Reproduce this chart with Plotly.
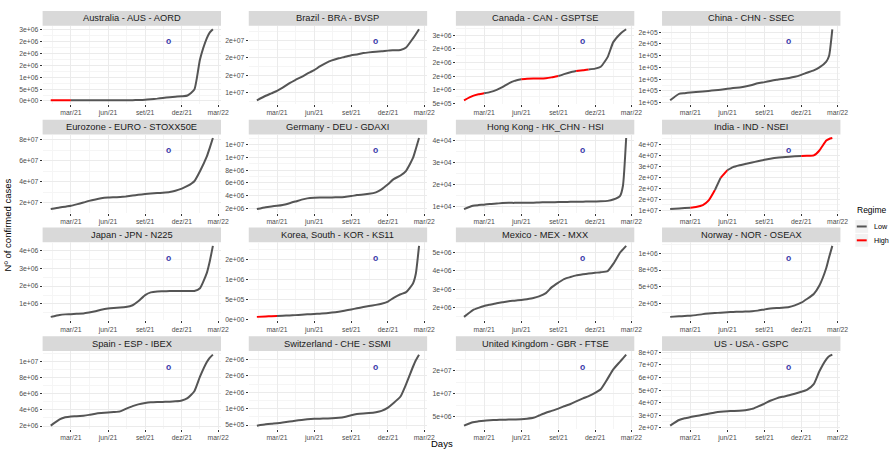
import pandas as pd
import plotly.graph_objects as go

# ---------------------------------------------------------------- data
dates = ["2021-01-10", "2021-02-01", "2021-02-15", "2021-03-01", "2021-03-15",
         "2021-04-01", "2021-04-15", "2021-05-01", "2021-05-15", "2021-06-01",
         "2021-06-15", "2021-07-01", "2021-07-15", "2021-08-01", "2021-08-15",
         "2021-09-01", "2021-09-15", "2021-10-01", "2021-10-15", "2021-11-01",
         "2021-11-15", "2021-12-01", "2021-12-15", "2022-01-01", "2022-01-15",
         "2022-02-01", "2022-02-08", "2022-02-16"]

# cumulative confirmed cases
australia = [0.029e6, 0.029e6, 0.029e6, 0.029e6, 0.029e6, 0.029e6, 0.030e6, 0.030e6, 0.030e6, 0.030e6,
             0.030e6, 0.031e6, 0.032e6, 0.035e6, 0.042e6, 0.055e6, 0.075e6, 0.100e6, 0.130e6, 0.160e6,
             0.180e6, 0.200e6, 0.230e6, 0.480e6, 1.750e6, 2.650e6, 2.880e6, 3.020e6]
brazil = [7.9e6, 9.2e6, 9.9e6, 10.6e6, 11.5e6, 12.8e6, 13.7e6, 14.6e6, 15.5e6, 16.5e6,
          17.6e6, 18.6e6, 19.3e6, 19.9e6, 20.3e6, 20.8e6, 21.0e6, 21.4e6, 21.6e6, 21.8e6,
          21.9e6, 22.1e6, 22.2e6, 22.3e6, 23.0e6, 25.6e6, 26.8e6, 28.2e6]
canada = [0.62e6, 0.78e6, 0.84e6, 0.88e6, 0.92e6, 1.00e6, 1.10e6, 1.24e6, 1.33e6, 1.39e6,
          1.41e6, 1.42e6, 1.42e6, 1.43e6, 1.46e6, 1.51e6, 1.58e6, 1.65e6, 1.69e6, 1.72e6,
          1.75e6, 1.78e6, 1.85e6, 2.20e6, 2.75e6, 3.05e6, 3.14e6, 3.22e6]
china = [1.020e5, 1.075e5, 1.081e5, 1.086e5, 1.090e5, 1.095e5, 1.100e5, 1.105e5, 1.110e5, 1.118e5,
         1.124e5, 1.130e5, 1.137e5, 1.150e5, 1.165e5, 1.175e5, 1.185e5, 1.195e5, 1.202e5, 1.210e5,
         1.220e5, 1.237e5, 1.255e5, 1.275e5, 1.300e5, 1.350e5, 1.400e5, 1.625e5]
eurozone = [14.0e6, 15.5e6, 16.3e6, 17.2e6, 18.5e6, 20.2e6, 21.8e6, 23.2e6, 24.2e6, 24.9e6,
            25.2e6, 25.5e6, 26.0e6, 26.9e6, 27.6e6, 28.3e6, 28.8e6, 29.2e6, 29.6e6, 30.3e6,
            31.5e6, 33.5e6, 36.0e6, 40.5e6, 50.0e6, 64.0e6, 72.0e6, 81.5e6]
germany = [1.93e6, 2.23e6, 2.35e6, 2.45e6, 2.58e6, 2.85e6, 3.10e6, 3.40e6, 3.60e6, 3.69e6,
           3.72e6, 3.73e6, 3.75e6, 3.78e6, 3.83e6, 3.96e6, 4.11e6, 4.21e6, 4.31e6, 4.54e6,
           5.00e6, 5.80e6, 6.60e6, 7.16e6, 7.90e6, 9.90e6, 11.30e6, 13.00e6]
hong_kong = [9.0e3, 10.5e3, 10.8e3, 11.0e3, 11.3e3, 11.5e3, 11.7e3, 11.8e3, 11.8e3, 11.85e3,
             11.9e3, 11.9e3, 12.0e3, 12.05e3, 12.1e3, 12.15e3, 12.2e3, 12.25e3, 12.3e3, 12.35e3,
             12.4e3, 12.45e3, 12.5e3, 12.7e3, 13.3e3, 15.0e3, 19.5e3, 41.0e3]
india = [10.47e6, 10.76e6, 10.92e6, 11.12e6, 11.44e6, 12.30e6, 14.29e6, 19.16e6, 24.68e6, 28.17e6,
         29.57e6, 30.41e6, 30.99e6, 31.66e6, 32.22e6, 32.86e6, 33.32e6, 33.77e6, 34.04e6, 34.29e6,
         34.46e6, 34.59e6, 34.70e6, 34.87e6, 37.12e6, 41.63e6, 42.34e6, 42.76e6]
japan = [0.28e6, 0.39e6, 0.42e6, 0.43e6, 0.45e6, 0.47e6, 0.52e6, 0.59e6, 0.68e6, 0.75e6,
         0.78e6, 0.80e6, 0.83e6, 0.93e6, 1.15e6, 1.50e6, 1.65e6, 1.70e6, 1.71e6, 1.72e6,
         1.72e6, 1.73e6, 1.73e6, 1.73e6, 1.88e6, 2.74e6, 3.36e6, 4.25e6]
korea = [0.068e6, 0.078e6, 0.084e6, 0.090e6, 0.096e6, 0.104e6, 0.112e6, 0.123e6, 0.131e6, 0.141e6,
         0.149e6, 0.158e6, 0.175e6, 0.199e6, 0.223e6, 0.255e6, 0.282e6, 0.314e6, 0.339e6, 0.369e6,
         0.399e6, 0.452e6, 0.545e6, 0.636e6, 0.690e6, 0.907e6, 1.150e6, 1.850e6]
mexico = [1.50e6, 1.87e6, 1.99e6, 2.09e6, 2.16e6, 2.24e6, 2.29e6, 2.35e6, 2.38e6, 2.42e6,
          2.46e6, 2.52e6, 2.61e6, 2.79e6, 3.10e6, 3.36e6, 3.55e6, 3.66e6, 3.75e6, 3.81e6,
          3.85e6, 3.89e6, 3.92e6, 3.98e6, 4.37e6, 4.99e6, 5.16e6, 5.35e6]
norway = [54e3, 63e3, 67e3, 72e3, 80e3, 95e3, 103e3, 110e3, 117e3, 123e3,
          127e3, 131e3, 133e3, 138e3, 147e3, 165e3, 178e3, 186e3, 190e3, 200e3,
          225e3, 265e3, 320e3, 395e3, 520e3, 780e3, 940e3, 1110e3]
spain = [2.05e6, 2.82e6, 3.08e6, 3.19e6, 3.21e6, 3.28e6, 3.38e6, 3.52e6, 3.60e6, 3.68e6,
         3.73e6, 3.81e6, 4.11e6, 4.45e6, 4.67e6, 4.83e6, 4.92e6, 4.96e6, 4.98e6, 5.00e6,
         5.05e6, 5.16e6, 5.44e6, 6.29e6, 8.09e6, 9.89e6, 10.40e6, 10.80e6]
switzerland = [0.48e6, 0.52e6, 0.54e6, 0.555e6, 0.575e6, 0.605e6, 0.63e6, 0.655e6, 0.675e6, 0.69e6,
               0.695e6, 0.70e6, 0.705e6, 0.72e6, 0.745e6, 0.80e6, 0.835e6, 0.855e6, 0.865e6, 0.89e6,
               0.93e6, 1.03e6, 1.17e6, 1.37e6, 1.75e6, 2.28e6, 2.48e6, 2.65e6]
united_kingdom = [3.10e6, 3.85e6, 4.04e6, 4.18e6, 4.26e6, 4.34e6, 4.38e6, 4.41e6, 4.45e6, 4.49e6,
                  4.60e6, 4.80e6, 5.30e6, 5.90e6, 6.30e6, 6.80e6, 7.30e6, 7.80e6, 8.35e6, 9.00e6,
                  9.50e6, 10.20e6, 11.00e6, 13.30e6, 15.30e6, 17.00e6, 17.70e6, 18.50e6]
us = [21.8e6, 26.3e6, 27.7e6, 28.6e6, 29.4e6, 30.4e6, 31.3e6, 32.3e6, 32.9e6, 33.3e6,
      33.5e6, 33.7e6, 34.1e6, 35.1e6, 36.9e6, 39.3e6, 41.6e6, 43.5e6, 44.7e6, 45.9e6,
      47.1e6, 48.7e6, 50.3e6, 54.8e6, 65.0e6, 74.5e6, 76.9e6, 78.2e6]

# periods classified as "High" regime (everything else is "Low")
high_australia = [("2021-01-10", "2021-03-01")]
high_canada = [("2021-01-10", "2021-03-01"), ("2021-06-01", "2021-09-01"),
               ("2021-10-15", "2021-11-15")]
high_india = [("2021-03-01", "2021-05-01"), ("2021-05-15", "2021-06-01"),
              ("2021-12-01", "2022-02-16")]
high_korea = [("2021-01-10", "2021-03-01")]

# y-axis breaks per panel
yt_australia = [0, 5e5, 1e6, 1.5e6, 2e6, 2.5e6, 3e6]
yt_brazil = [1e7, 1.5e7, 2e7, 2.5e7]
yt_canada = [5e5, 1e6, 1.5e6, 2e6, 2.5e6, 3e6]
yt_china = [1.0e5, 1.1e5, 1.2e5, 1.3e5, 1.4e5, 1.5e5, 1.6e5]
yt_eurozone = [2e7, 4e7, 6e7, 8e7]
yt_germany = [2e6, 4e6, 6e6, 8e6, 1e7, 1.2e7]
yt_hong_kong = [1e4, 2e4, 3e4, 4e4]
yt_india = [1e7, 1.5e7, 2e7, 2.5e7, 3e7, 3.5e7, 4e7]
yt_japan = [1e6, 2e6, 3e6, 4e6]
yt_korea = [0, 5e5, 1e6, 1.5e6]
yt_mexico = [2e6, 3e6, 4e6, 5e6]
yt_norway = [0, 2.5e5, 5e5, 7.5e5, 1e6]
yt_spain = [2e6, 4e6, 6e6, 8e6, 1e7]
yt_switzerland = [5e5, 1e6, 1.5e6, 2e6, 2.5e6]
yt_united_kingdom = [5e6, 1e7, 1.5e7]
yt_us = [2e7, 3e7, 4e7, 5e7, 6e7, 7e7, 8e7]

# x-axis breaks
x_ticks = ["2021-03-01", "2021-06-01", "2021-09-01", "2021-12-01", "2022-03-01"]
x_labels = ["mar/21", "jun/21", "set/21", "dez/21", "mar/22"]
x_minor = ["2021-01-14", "2021-04-16", "2021-07-17", "2021-10-16", "2022-01-15"]

marker_date = "2021-10-30"

panels = [
    ("Australia - AUS - AORD", australia, yt_australia, high_australia),
    ("Brazil - BRA - BVSP", brazil, yt_brazil, []),
    ("Canada - CAN - GSPTSE", canada, yt_canada, high_canada),
    ("China - CHN - SSEC", china, yt_china, []),
    ("Eurozone - EURO - STOXX50E", eurozone, yt_eurozone, []),
    ("Germany - DEU - GDAXI", germany, yt_germany, []),
    ("Hong Kong - HK_CHN - HSI", hong_kong, yt_hong_kong, []),
    ("India - IND - NSEI", india, yt_india, high_india),
    ("Japan - JPN - N225", japan, yt_japan, []),
    ("Korea, South - KOR - KS11", korea, yt_korea, high_korea),
    ("Mexico - MEX - MXX", mexico, yt_mexico, []),
    ("Norway - NOR - OSEAX", norway, yt_norway, []),
    ("Spain - ESP - IBEX", spain, yt_spain, []),
    ("Switzerland - CHE - SSMI", switzerland, yt_switzerland, []),
    ("United Kingdom - GBR - FTSE", united_kingdom, yt_united_kingdom, []),
    ("US - USA - GSPC", us, yt_us, []),
]

# ---------------------------------------------------------------- layout constants
W, H = 896, 451
COL_LEFT = [43, 251, 460, 668]
ROW_TOP = [24, 134, 243, 353]
PW, PH, SH = 180, 79, 15
FONT = "Liberation Sans, Arial, sans-serif"
LOW_COL, HIGH_COL = "#555555", "#FF0000"
GRID, GRID_MINOR = "#EBEBEB", "#F5F5F5"
TICK_FONT = dict(family=FONT, size=6.8, color="#4D4D4D")


def fx(px):
    return px / W


def fy(px):
    return 1 - px / H


def sci(v):
    return f"{v:.0e}"


def is_high(d0, d1, periods):
    mid = d0 + (d1 - d0) / 2
    return any(pd.Timestamp(a) <= mid <= pd.Timestamp(b) for a, b in periods)


ts = [pd.Timestamp(d) for d in dates]
x_pad = (ts[-1] - ts[0]) * 0.05
x_range = [ts[0] - x_pad, ts[-1] + x_pad]

fig = go.Figure()
shapes, annotations = [], []

for k, (title, values, yticks, periods) in enumerate(panels):
    r, c = divmod(k, 4)
    sfx = "" if k == 0 else str(k + 1)
    left, top = COL_LEFT[c], ROW_TOP[r]

    # split line into regime runs
    runs = []
    for i in range(len(ts) - 1):
        reg = "High" if is_high(ts[i], ts[i + 1], periods) else "Low"
        if runs and runs[-1][0] == reg:
            runs[-1][1].append(i + 1)
        else:
            runs.append([reg, [i, i + 1]])
    for reg, idx in runs:
        fig.add_trace(go.Scatter(
            x=[dates[i] for i in idx], y=[values[i] for i in idx], mode="lines",
            line=dict(color=HIGH_COL if reg == "High" else LOW_COL, width=2.0,
                      shape="spline", smoothing=0.5),
            xaxis="x" + sfx, yaxis="y" + sfx, showlegend=False, hoverinfo="skip"))

    lo, hi = min(values), max(values)
    pad = (hi - lo) * 0.05
    step = yticks[1] - yticks[0]
    y_minor = [yticks[0] - step / 2] + [v + step / 2 for v in yticks]

    fig.update_layout(**{
        "xaxis" + sfx: dict(
            domain=[fx(left), fx(left + PW)], anchor="y" + sfx, range=x_range, type="date",
            tickvals=x_ticks, ticktext=x_labels, showgrid=True, gridcolor=GRID, gridwidth=0.7,
            minor=dict(tickvals=x_minor, showgrid=True, gridcolor=GRID_MINOR, gridwidth=0.5, ticklen=0),
            ticks="outside", ticklen=2, tickwidth=0.6, tickcolor="#333333",
            tickfont=TICK_FONT, showline=False, zeroline=False, fixedrange=True),
        "yaxis" + sfx: dict(
            domain=[fy(top + PH), fy(top)], anchor="x" + sfx, range=[lo - pad, hi + pad],
            tickvals=yticks, ticktext=[sci(v) for v in yticks], showgrid=True, gridcolor=GRID,
            gridwidth=0.7,
            minor=dict(tickvals=y_minor, showgrid=True, gridcolor=GRID_MINOR, gridwidth=0.5, ticklen=0),
            ticks="outside", ticklen=2, tickwidth=0.6, tickcolor="#333333",
            tickfont=TICK_FONT, showline=False, zeroline=False, fixedrange=True),
    })

    # facet strip
    shapes.append(dict(type="rect", xref="paper", yref="paper",
                       x0=fx(left), x1=fx(left + PW), y0=fy(top), y1=fy(top - SH),
                       fillcolor="#D9D9D9", line=dict(width=0), layer="below"))
    annotations.append(dict(xref="paper", yref="paper", x=fx(left + PW / 2), y=fy(top - SH / 2),
                            text=title, showarrow=False, xanchor="center", yanchor="middle",
                            font=dict(family=FONT, size=9.3, color="#1A1A1A")))
    # blue marker text
    annotations.append(dict(xref="x" + sfx, yref="y" + sfx + " domain", x=marker_date, y=0.80,
                            text="<b>o</b>", showarrow=False, xanchor="center", yanchor="middle",
                            font=dict(family=FONT, size=8.5, color="#3A3AAA")))

# axis titles
annotations.append(dict(xref="paper", yref="paper", x=fx(446), y=fy(446), text="Days",
                        showarrow=False, xanchor="center", yanchor="middle",
                        font=dict(family=FONT, size=9.5, color="#000000")))
annotations.append(dict(xref="paper", yref="paper", x=fx(8), y=fy(225), text="Nº of confirmed cases",
                        showarrow=False, textangle=-90, xanchor="center", yanchor="middle",
                        font=dict(family=FONT, size=9.5, color="#000000")))

# legend
LX = 863
annotations.append(dict(xref="paper", yref="paper", x=fx(LX), y=fy(210), text="Regime",
                        showarrow=False, xanchor="left", yanchor="middle",
                        font=dict(family=FONT, size=8.5, color="#000000")))
for j, (name, col) in enumerate([("Low", LOW_COL), ("High", HIGH_COL)]):
    cy = 227 + 14 * j
    shapes.append(dict(type="rect", xref="paper", yref="paper",
                       x0=fx(LX), x1=fx(LX + 13), y0=fy(cy + 6.5), y1=fy(cy - 6.5),
                       fillcolor="#F2F2F2", line=dict(width=0)))
    shapes.append(dict(type="line", xref="paper", yref="paper",
                       x0=fx(LX + 1.5), x1=fx(LX + 11.5), y0=fy(cy), y1=fy(cy),
                       line=dict(color=col, width=2.0)))
    annotations.append(dict(xref="paper", yref="paper", x=fx(LX + 17), y=fy(cy), text=name,
                            showarrow=False, xanchor="left", yanchor="middle",
                            font=dict(family=FONT, size=7.2, color="#000000")))

fig.update_layout(width=W, height=H, margin=dict(l=0, r=0, t=0, b=0),
                  paper_bgcolor="white", plot_bgcolor="white", showlegend=False,
                  shapes=shapes, annotations=annotations)

fig.write_html("out.html")
